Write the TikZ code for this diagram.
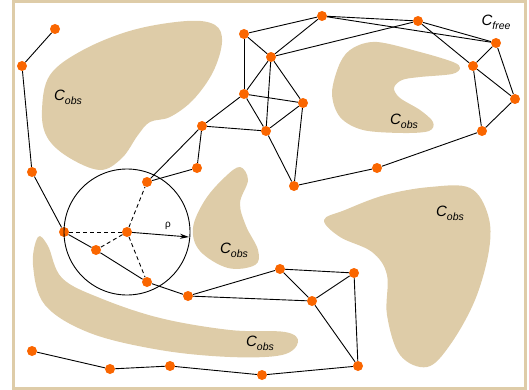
\documentclass[tikz,border=0pt]{standalone}
\usepackage{fontspec}
\setmainfont{Liberation Sans}
\usetikzlibrary{arrows.meta}

\definecolor{obstan}{RGB}{222,204,168}
\definecolor{dotorange}{RGB}{250,102,0}

\tikzset{
  vtx/.style = {circle, fill = dotorange, inner sep = 0pt, minimum size = 10pt},
  edge/.style = {line width = 0.9pt},
  ray/.style = {line width = 0.9pt, dash pattern = on 4pt off 3pt},
  obst/.style = {fill = obstan, draw = none},
  clabel/.style = {font = \fontsize{15}{18}\selectfont\itshape, inner sep = 0pt}
}

\newcommand{\cspace}[1]{C\raisebox{-4pt}{\fontsize{10.5}{12}\selectfont #1}}

\begin{document}
\begin{tikzpicture}[x = 1pt, y = -1pt]
  \useasboundingbox (0, 0) rectangle (529, 390);

  % obstacles
  \fill[obst] plot[smooth cycle, tension = 0.6] coordinates {
      (42, 110) (50, 75) (83, 50) (133, 30) (187, 21) (215, 25)
      (222, 42) (213, 72) (193, 100) (170, 117) (150, 122) (138, 135)
      (122, 158) (100, 170) (68, 157) (47, 137)
    };
  \fill[obst] plot[smooth cycle, tension = 0.55] coordinates {
      (353, 48) (377, 42) (420, 52) (453, 62) (460, 68) (452, 74)
      (420, 77) (402, 80) (394, 88) (400, 98) (420, 110) (433, 122)
      (429, 131) (403, 133) (363, 130) (340, 117) (332, 93) (340, 63)
    };
  \fill[obst] plot[smooth cycle, tension = 0.6] coordinates {
      (240, 167) (248, 180) (240, 203) (246, 226) (258, 250) (255, 265)
      (228, 268) (200, 251) (193, 228) (205, 200) (225, 177)
    };
  \fill[obst] plot[smooth cycle, tension = 0.6] coordinates {
      (324, 220) (345, 210) (385, 195) (430, 187) (470, 188) (488, 215)
      (489, 250) (475, 300) (450, 345) (427, 367) (400, 355) (387, 315)
      (387, 275) (372, 252) (340, 237)
    };
  \fill[obst] plot[smooth cycle, tension = 0.6] coordinates {
      (38, 237) (48, 246) (62, 278) (100, 298) (160, 318) (230, 330)
      (285, 332) (298, 342) (282, 355) (230, 357) (160, 350) (90, 333)
      (45, 305) (33, 265)
    };

  % frame
  \draw[obstan, line width = 3pt] (13.5, 1.5) rectangle (525.5, 388);

  % labels
  \node[clabel] (cobs1) at (68, 97) {\cspace{obs}};
  \node[clabel] (cobs2) at (404, 121) {\cspace{obs}};
  \node[clabel] (cobs3) at (234, 250) {\cspace{obs}};
  \node[clabel] (cobs4) at (450, 213) {\cspace{obs}};
  \node[clabel] (cobs5) at (260, 343) {\cspace{obs}};
  \node[clabel] (cfree) at (496, 22) {\cspace{free}};

  % vertices
  \node[vtx] (v1) at (55, 29) {};
  \node[vtx] (v2) at (22, 66) {};
  \node[vtx] (v3) at (32, 172) {};
  \node[vtx] (v4) at (64, 232) {};
  \node[vtx] (v5) at (96, 250) {};
  \node[vtx] (v6) at (127, 232) {};
  \node[vtx] (v7) at (147, 182) {};
  \node[vtx] (v8) at (147, 282) {};
  \node[vtx] (v9) at (188, 296) {};
  \node[vtx] (v10) at (197, 168) {};
  \node[vtx] (v11) at (202, 126) {};
  \node[vtx] (v12) at (244, 94) {};
  \node[vtx] (v13) at (244, 34) {};
  \node[vtx] (v14) at (271, 57) {};
  \node[vtx] (v15) at (303, 103) {};
  \node[vtx] (v16) at (266, 131) {};
  \node[vtx] (v17) at (294, 186) {};
  \node[vtx] (v18) at (322, 16) {};
  \node[vtx] (v19) at (418, 21) {};
  \node[vtx] (v20) at (496, 43) {};
  \node[vtx] (v21) at (473, 66) {};
  \node[vtx] (v22) at (515, 99) {};
  \node[vtx] (v23) at (482, 131) {};
  \node[vtx] (v24) at (377, 168) {};
  \node[vtx] (v25) at (280, 269) {};
  \node[vtx] (v26) at (354, 273) {};
  \node[vtx] (v27) at (312, 301) {};
  \node[vtx] (v28) at (358, 366) {};
  \node[vtx] (v29) at (262, 375) {};
  \node[vtx] (v30) at (170, 366) {};
  \node[vtx] (v31) at (110, 369) {};
  \node[vtx] (v32) at (32, 351) {};

  % neighbourhood of v6
  \draw[edge] (v6.center) circle[radius = 63pt];
  \coordinate (rhoend) at (189, 237);
  \draw[edge, -{Stealth[length = 9pt, width = 5pt]}] (v6) -- (rhoend);
  \node[font = \fontsize{10}{12}\selectfont] (rho) at (168, 226) {ρ};
  \foreach \a in {v4, v5, v7, v8}
    \draw[ray] (v6) -- (\a);

  % roadmap edges
  \foreach \a/\b in {v1/v2, v2/v3, v3/v4, v4/v5, v5/v8, v8/v9,
      v7/v11, v7/v10, v10/v11, v11/v12, v12/v13, v12/v14, v12/v15,
      v12/v16, v13/v14, v13/v18, v14/v18, v14/v19, v14/v16, v14/v15,
      v15/v16, v15/v17, v16/v17, v16/v11, v18/v19, v18/v20, v19/v20,
      v19/v21, v20/v21, v20/v22, v21/v22, v21/v23, v22/v23, v23/v24,
      v24/v17, v9/v25, v9/v27, v25/v26, v25/v27, v26/v27, v26/v28,
      v27/v28, v28/v29, v29/v30, v30/v31, v31/v32}
    \draw[edge] (\a) -- (\b);
\end{tikzpicture}
\end{document}
